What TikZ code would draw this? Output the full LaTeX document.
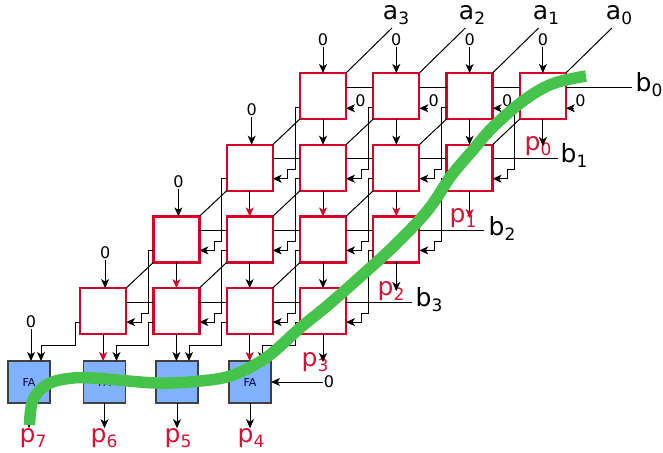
\documentclass[tikz,border=0pt]{standalone}
\usepackage{fontspec}
\setmainfont{DejaVu Sans}
\usetikzlibrary{arrows.meta,calc}
\definecolor{cellred}{RGB}{212,0,42}
\definecolor{labelred}{RGB}{216,16,52}
\definecolor{fablue}{RGB}{128,178,255}
\definecolor{pathgreen}{RGB}{70,195,75}
\newcommand{\sublabel}[2]{#1\raisebox{-0.2em}{\fontsize{17}{17}\selectfont #2}}
\begin{document}
\begin{tikzpicture}[x=1pt,y=-1pt]
  % Parameters
  \def\cellsize{46}
  \def\colgap{73.3}
  \def\rowgap{71.7}
  \def\stubout{5}
  \def\carryin{34}
  \def\binput{14}

  \useasboundingbox (0,0) rectangle (663,452);

  \tikzset{
    cellbox/.style={draw=cellred, fill=white, line width=2.3pt, minimum size=\cellsize pt, inner sep=0pt, outer sep=0pt},
    fabox/.style={draw=black!75, fill=fablue, line width=1.3pt, minimum size=42pt, inner sep=0pt, outer sep=0pt, text=blue!25!black, font=\fontsize{11}{11}\selectfont},
    zerolabel/.style={font=\fontsize{16}{16}\selectfont, inner sep=1pt},
    blabel/.style={font=\fontsize{25}{25}\selectfont, inner sep=0pt},
    plabel/.style={blabel, text=labelred},
    wire/.style={black, line width=1pt},
    darrow/.style={wire, -{Stealth[length=9pt,width=8pt,inset=2.5pt]}},
    rarrow/.style={wire, -{Stealth[length=9pt,width=8pt,inset=2.5pt,color=cellred]}}
  }

  % Draw 4 rows of cells
  \foreach \r in {0,...,3} {
    \foreach \c in {0,...,3} {
      \node[cellbox] (cell\r\c) at ({323+\colgap*(\c-\r)},{96+\rowgap*\r}) {};
    }
  }

  % Bottom row of adders
  \foreach \c/\x in {0/29,1/104.5,2/177,3/250} {
    \node[fabox] (fa\c) at (\x,382) {FA};
  }

  % Labels
  \node[plabel] (p0) at (538,146) {\sublabel{p}{0}};
  \node[plabel] (p1) at (463,218) {\sublabel{p}{1}};
  \node[plabel] (p2) at (391,291) {\sublabel{p}{2}};
  \node[plabel] (p3) at (315,362) {\sublabel{p}{3}};
  \node[plabel] (p4) at (251,438) {\sublabel{p}{4}};
  \node[plabel] (p5) at (178,438) {\sublabel{p}{5}};
  \node[plabel] (p6) at (104,438) {\sublabel{p}{6}};
  \node[plabel] (p7) at (33,438) {\sublabel{p}{7}};
  \node[blabel] (a3) at (396,15) {\sublabel{a}{3}};
  \node[blabel] (a2) at (472,15) {\sublabel{a}{2}};
  \node[blabel] (a1) at (546,15) {\sublabel{a}{1}};
  \node[blabel] (a0) at (619,15) {\sublabel{a}{0}};
  \node[blabel] (b0) at (649,85) {\sublabel{b}{0}};
  \node[blabel] (b1) at (574,156) {\sublabel{b}{1}};
  \node[blabel] (b2) at (502,229) {\sublabel{b}{2}};
  \node[blabel] (b3) at (429,300) {\sublabel{b}{3}};

  % Diagonal and horizontal wires between cells
  \foreach \r in {1,...,3} {
    \pgfmathtruncatemacro{\rp}{\r-1}
    \foreach \c in {0,...,3} {
      \draw[wire] (cell\r\c.north east) -- (cell\rp\c.south west);
    }
  }
  \foreach \r in {0,...,3} {
    \foreach \c in {0,...,2} {
      \pgfmathtruncatemacro{\cn}{\c+1}
      \draw[wire] ($(cell\r\c.north east)+(0,\binput)$) -- ($(cell\r\cn.north west)+(0,\binput)$);
    }
  }
  % Wires out to a and b
  \foreach \c in {0,...,3} {
    \draw[wire] (cell0\c.north east) -- ++(46,-45) coordinate (aend\c);
  }
  \foreach \r/\bx in {0/632,1/558,2/484,3/412} {
    \draw[wire] ($(cell\r3.north east)+(0,\binput)$) -- ++({\bx-(323+\colgap*(3-\r)+23)},0) coordinate (bend\r);
  }

  % Carry stairs
  \foreach \r in {0,...,2} {
    \pgfmathtruncatemacro{\rn}{\r+1}
    \foreach \c in {0,...,3} {
      \draw[darrow] ($(cell\r\c.north west)+(0,\carryin)$) -- ++(-\stubout,0)
        |- ($(cell\rn\c.north east)+(15,25)$) -- ++(0,9) -- ($(cell\rn\c.north east)+(0,\carryin)$);
    }
  }
  \foreach \c in {0,...,3} {
    \draw[darrow] ($(cell3\c.north west)+(0,\carryin)$) -- ++(-\stubout,0)
      |- ($(fa\c.north)+(12,-16)$) -- ($(fa\c.north)+(12,0)$);
  }

  % Vertical arrows
  \foreach \from/\to/\tip in {
    cell00/cell11.north/darrow, cell01/cell12.north/darrow, cell02/cell13.north/darrow, cell03/p0.center/darrow,
    cell10/cell21.north/rarrow, cell11/cell22.north/rarrow, cell12/cell23.north/rarrow, cell13/p1.center/rarrow,
    cell20/cell31.north/rarrow, cell21/cell32.north/darrow, cell22/cell33.north/darrow, cell23/p2.center/darrow,
    cell30/fa1.north/rarrow, cell31/fa2.north/darrow, cell32/fa3.north/rarrow, cell33/p3.center/darrow,
    fa0/p7.north/darrow, fa1/p6.north/darrow, fa2/p5.north/darrow, fa3/p4.north/darrow} {
    \draw[\tip] (\from.south) -- (\from.south |- \to);
  }

  % Zero inputs
  \foreach \c in {0,...,3} {
    \node[zerolabel] (ztop\c) at ($(cell0\c.north)+(0,-33)$) {0};
    \draw[darrow] (ztop\c) -- (cell0\c.north);
    \node[zerolabel] (zside\c) at ($(cell0\c.north east)+(14.5,28)$) {0};
    \draw[darrow] (zside\c.south west) -- (zside\c.south west -| cell0\c.east);
  }
  \foreach \r in {1,2,3} {
    \node[zerolabel] (zrow\r) at ($(cell\r0.north)+(2,-35)$) {0};
    \draw[darrow] (zrow\r) -- (zrow\r |- cell\r0.north);
  }
  \node[zerolabel] (zfa) at (31,322) {0};
  \draw[darrow] (zfa) -- (zfa |- fa0.north);
  \node[zerolabel] (zfb) at (329,382) {0};
  \draw[darrow] (zfb) -- (fa3.east);

  % Critical path
  \draw[pathgreen, line width=11.5pt, line cap=butt] plot[smooth, tension=0.6] coordinates {
    (29.5,425) (33,400) (48,384) (73,378) (100,378.5) (157,383) (200,381) (233,375)
    (267,357) (300,328) (327,306) (360,277) (395,245) (428,210) (451,176) (473,150)
    (492,128) (523,101) (552,84) (586,76)};
\end{tikzpicture}
\end{document}
